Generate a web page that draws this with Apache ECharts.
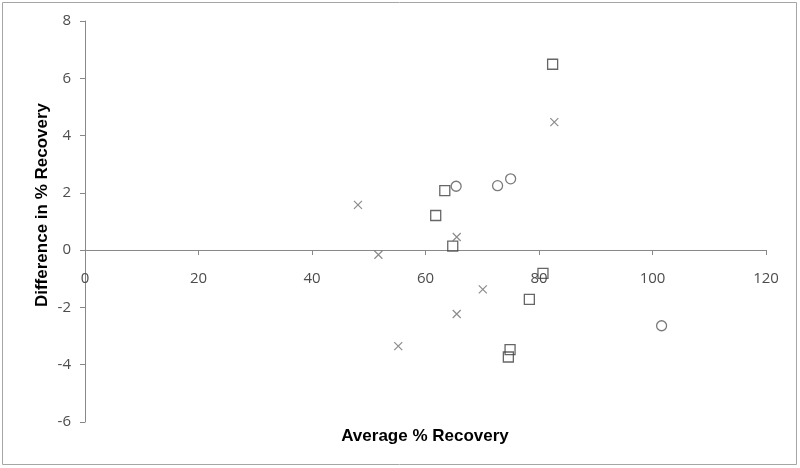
<!DOCTYPE html>
<html>
<head>
<meta charset="utf-8">
<script src="https://cdn.jsdelivr.net/npm/echarts@6/dist/echarts.min.js"></script>
<style>
  html, body { margin: 0; padding: 0; background: #fff; }
  #chart { width: 800px; height: 468px; }
</style>
</head>
<body>
<div id="chart"></div>
<script>
// three groups of points: [average % recovery, difference in % recovery]
const squarePoints = [
  [82.4, 6.49], [63.4, 2.08], [61.8, 1.21], [64.8, 0.14],
  [80.7, -0.81], [78.3, -1.72], [74.9, -3.47], [74.6, -3.73]
];
const circlePoints = [
  [65.4, 2.23], [72.7, 2.25], [75.0, 2.49], [101.6, -2.64]
];
const crossPoints = [
  [48.1, 1.58], [82.7, 4.47], [65.5, 0.46], [51.7, -0.16],
  [70.1, -1.37], [65.5, -2.23], [55.2, -3.35]
];

const xTitle = "Average % Recovery";
const yTitle = "Difference in % Recovery";

const chart = echarts.init(document.getElementById("chart"));

const labelFont = { color: "#4d4d4d", fontSize: 15, fontFamily: "Open Sans" };
const axisGray = "#888888";

const option = {
  animation: false,
  backgroundColor: "#ffffff",
  grid: { left: 85, right: 34, top: 21, bottom: 46 },
  xAxis: {
    type: "value",
    min: 0,
    max: 120,
    interval: 20,
    // move the x axis (line, ticks, labels) up to y = 0
    offset: -172,
    axisLine: { show: true, onZero: false, lineStyle: { color: axisGray } },
    axisTick: { show: true, length: 5, lineStyle: { color: axisGray } },
    axisLabel: { ...labelFont, margin: 21 },
    splitLine: { show: false }
  },
  yAxis: {
    type: "value",
    min: -6,
    max: 8,
    interval: 2,
    axisLine: { show: true, lineStyle: { color: axisGray } },
    axisTick: { show: true, length: 5, lineStyle: { color: axisGray } },
    axisLabel: { ...labelFont, margin: 14 },
    splitLine: { show: false }
  },
  graphic: [
    {
      type: "rect",
      shape: { x: 2.5, y: 2.5, width: 794, height: 462 },
      style: { fill: "none", stroke: "#a6a6a6", lineWidth: 1 },
      silent: true
    },
    {
      type: "text",
      x: 425,
      y: 436,
      style: {
        text: xTitle,
        font: "bold 17px 'Liberation Sans', Arial, sans-serif",
        fill: "#000",
        textAlign: "center",
        textVerticalAlign: "middle"
      }
    },
    {
      type: "text",
      x: 42,
      y: 205,
      rotation: Math.PI / 2,
      style: {
        text: yTitle,
        font: "bold 17px 'Liberation Sans', Arial, sans-serif",
        fill: "#000",
        textAlign: "center",
        textVerticalAlign: "middle"
      }
    }
  ],
  series: [
    {
      name: "squares",
      type: "scatter",
      data: squarePoints,
      symbol: "rect",
      symbolSize: 10,
      itemStyle: { color: "none", borderColor: "#404040", borderWidth: 1.3 }
    },
    {
      name: "circles",
      type: "scatter",
      data: circlePoints,
      symbol: "circle",
      symbolSize: 10,
      itemStyle: { color: "none", borderColor: "#595959", borderWidth: 1.3 }
    },
    {
      name: "crosses",
      type: "scatter",
      data: crossPoints,
      symbol: "path://M0,0L10,10M10,0L0,10",
      symbolSize: 8,
      itemStyle: { color: "none", borderColor: "#6e6e6e", borderWidth: 1.2 }
    }
  ]
};

chart.setOption(option);
</script>
</body>
</html>
